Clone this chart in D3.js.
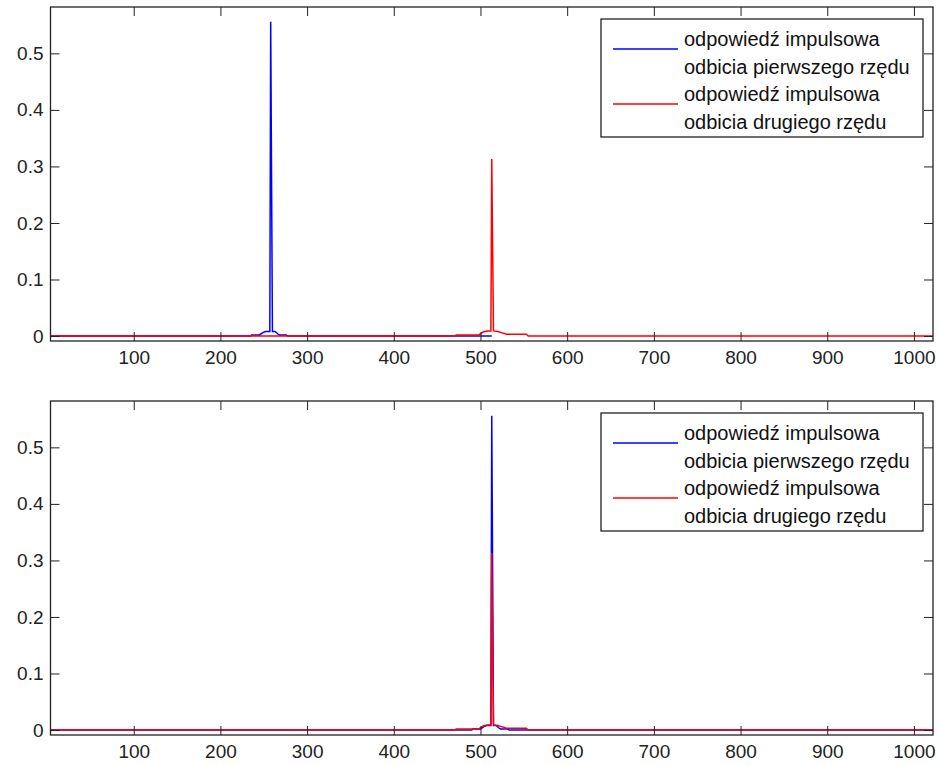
<!DOCTYPE html>
<html lang="pl">
<head>
<meta charset="UTF-8" />
<title>Odpowiedź impulsowa</title>
<script src="https://d3js.org/d3.v7.min.js"></script>
<style>
  body { margin: 0; background: #fff; }
  svg { display: block; font-family: "Liberation Sans", Arial, sans-serif; }
  .tick text { font-size: 19px; fill: #222; }
  .legend text { font-size: 20px; fill: #111; }
</style>
</head>
<body>
<div id="chart"></div>
<script>
// osie
const xTicks = [100, 200, 300, 400, 500, 600, 700, 800, 900, 1000];
const yTicks = [0, 0.1, 0.2, 0.3, 0.4, 0.5];
const xDomain = [4, 1022];
const yDomain = [-0.0088, 0.582];

// górny wykres: odbicie pierwszego rzędu (niebieskie)
const topBlueX = [1, 235, 236, 245, 249, 252, 257, 258, 259, 260, 263, 266, 268, 276, 278, 513];
const topBlueY = [0, 0, 0.002, 0.002, 0.006, 0.008, 0.008, 0.556, 0.281, 0.008, 0.008, 0.004, 0.002, 0.002, 0, 0];
// górny wykres: odbicie drugiego rzędu (czerwone)
const topRedX = [1, 471, 472, 498, 503, 508, 512, 513, 514, 515, 520, 524, 530, 553, 555, 1024];
const topRedY = [0, 0, 0.002, 0.002, 0.007, 0.009, 0.009, 0.313, 0.161, 0.009, 0.008, 0.006, 0.003, 0.003, 0, 0];

// dolny wykres: oba wyrównane do próbki 513
const botBlueX = [1, 490, 491, 500, 504, 507, 512, 513, 514, 515, 518, 521, 523, 531, 533, 1024];
const botBlueY = [0, 0, 0.002, 0.002, 0.006, 0.008, 0.008, 0.556, 0.281, 0.008, 0.008, 0.004, 0.002, 0.002, 0, 0];
const botRedX = topRedX;
const botRedY = topRedY;

const legendLabels = [
  ["odpowiedź impulsowa", "odbicia pierwszego rzędu"],
  ["odpowiedź impulsowa", "odbicia drugiego rzędu"]
];
const colors = ["#0000ff", "#ff0000"];

const W = 939, H = 765;
const svg = d3.select("#chart").append("svg").attr("width", W).attr("height", H);
svg.append("rect").attr("width", W).attr("height", H).attr("fill", "#fff");

function drawPanel(top, series, id) {
  const left = 50.5, right = 933, bottom = top + 334;
  const x = d3.scaleLinear().domain(xDomain).range([left, right]);
  const y = d3.scaleLinear().domain(yDomain).range([bottom, top]);
  const g = svg.append("g");

  g.append("clipPath").attr("id", "clip" + id)
    .append("rect").attr("x", left).attr("y", top)
    .attr("width", right - left).attr("height", bottom - top);

  const line = d3.line().x(d => x(d[0])).y(d => y(d[1]));
  const plot = g.append("g").attr("clip-path", `url(#clip${id})`);
  series.forEach((s, i) => {
    plot.append("path")
      .datum(d3.zip(s.x, s.y))
      .attr("d", line)
      .attr("fill", "none")
      .attr("stroke", colors[i])
      .attr("stroke-width", 1.5);
  });

  // osie z tickami do środka
  const ax = (axis, tr, labels) => {
    const a = g.append("g").attr("transform", tr).call(axis);
    a.select(".domain").remove();
    a.selectAll("line").attr("stroke", "#222");
    if (!labels) a.selectAll("text").remove();
    return a;
  };
  const xb = ax(d3.axisBottom(x).tickValues(xTicks).tickSizeInner(-9).tickSizeOuter(0).tickPadding(0)
    .tickFormat(d3.format("d")), `translate(0,${bottom})`, true);
  xb.selectAll("text").attr("y", 10).attr("dy", "0.71em");
  ax(d3.axisTop(x).tickValues(xTicks).tickSizeInner(-9).tickSizeOuter(0), `translate(0,${top})`, false);
  const yl = ax(d3.axisLeft(y).tickValues(yTicks).tickSizeInner(-9).tickSizeOuter(0)
    .tickFormat(d => d === 0 ? "0" : d3.format(".1f")(d)), `translate(${left},0)`, true);
  yl.selectAll("text").attr("x", -7);
  ax(d3.axisRight(y).tickValues(yTicks).tickSizeInner(-9).tickSizeOuter(0), `translate(${right},0)`, false);

  g.append("rect").attr("x", left).attr("y", top)
    .attr("width", right - left).attr("height", bottom - top)
    .attr("fill", "none").attr("stroke", "#222").attr("stroke-width", 1.3);

  // legenda
  const lg = g.append("g").attr("class", "legend").attr("transform", `translate(601,${top + 12})`);
  lg.append("rect").attr("width", 322).attr("height", 118)
    .attr("fill", "#fff").attr("stroke", "#222").attr("stroke-width", 1.3);
  legendLabels.forEach((lines, i) => {
    const y0 = 30 + i * 55;
    lg.append("line").attr("x1", 12).attr("x2", 77).attr("y1", y0).attr("y2", y0)
      .attr("stroke", colors[i]).attr("stroke-width", 1.5);
    lines.forEach((t, j) => {
      lg.append("text").attr("x", 83).attr("y", y0 - 10 + j * 28)
        .attr("dy", "0.35em").text(t);
    });
  });
}

drawPanel(7, [{ x: topBlueX, y: topBlueY }, { x: topRedX, y: topRedY }], 1);
drawPanel(401, [{ x: botBlueX, y: botBlueY }, { x: botRedX, y: botRedY }], 2);
</script>
</body>
</html>
